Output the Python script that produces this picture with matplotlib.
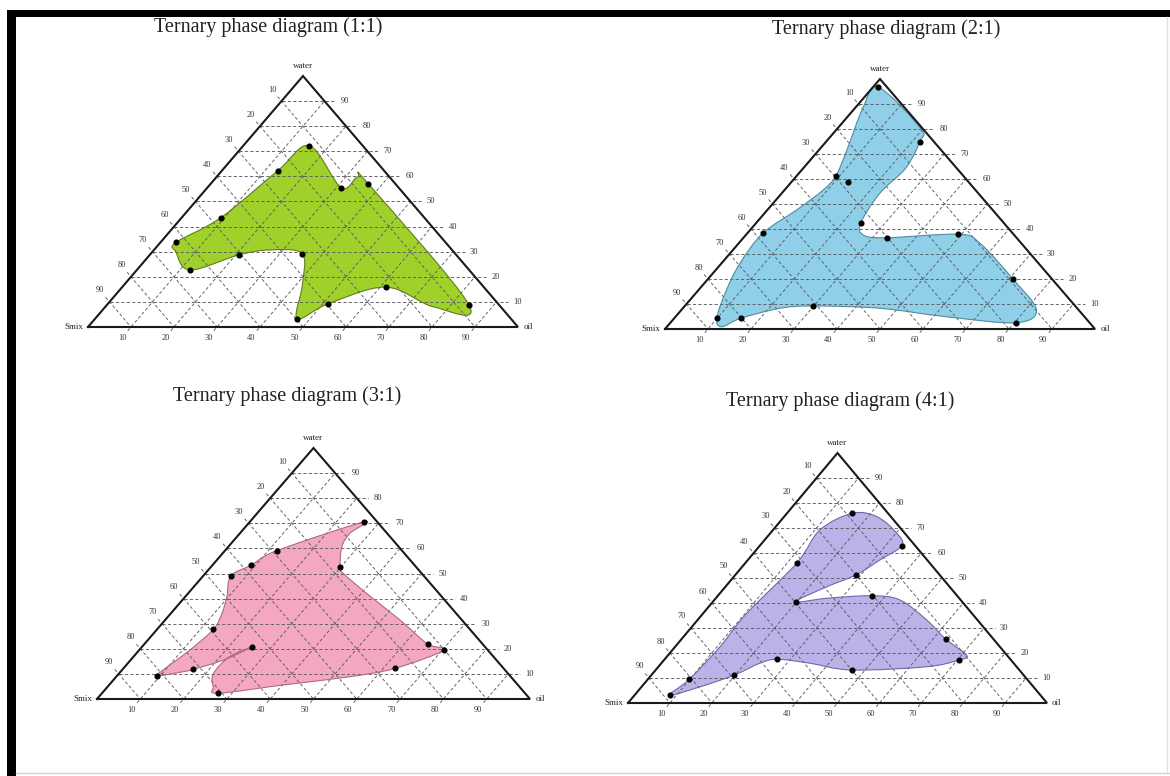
import numpy as np
import matplotlib
matplotlib.use("Agg")
import matplotlib.pyplot as plt
from matplotlib.path import Path
from matplotlib.patches import PathPatch, Rectangle

FIG_W, FIG_H, DPI = 1170, 776, 100

titles = ["Ternary phase diagram (1:1)", "Ternary phase diagram (2:1)",
          "Ternary phase diagram (3:1)", "Ternary phase diagram (4:1)"]
fill_colors = ["#a0d12b", "#8fd0e8", "#f3a8c0", "#bab3e8"]
edge_colors = ["#5f7d1a", "#4f8aa0", "#b06a80", "#6f69a8"]
tick_values = [10, 20, 30, 40, 50, 60, 70, 80, 90]
vertex_labels = ["Smix", "oil", "water"]

# boundary of the microemulsion region: water %, oil % (Smix = rest); mark=1 -> measured point
p1_water = [72.2, 55.5, 59.8, 57.0, 8.8, 8.1, 15.9, 9.2, 3.3, 16.7, 29.2, 30.7, 28.7, 22.7, 29.9, 33.7, 43.5, 62.3]
p1_oil = [15.4, 31.1, 32.8, 36.7, 84.2, 76.2, 61.3, 51.2, 47.0, 41.5, 35.2, 27.0, 20.7, 12.4, 5.5, 3.6, 9.1, 13.0]
p1_mark = [1, 1, 0, 1, 1, 0, 1, 1, 1, 0, 1, 0, 1, 1, 0, 1, 1, 1]

p2_water = [96.7, 80.3, 74.9, 64.3, 54.3, 42.5, 37.6, 36.5, 37.9, 34.3, 19.9, 7.6, 2.5, 4.9, 8.3, 9.2,
            8.3, 4.3, 0.9, 4.5, 15.6, 26.3, 38.3, 47.6, 55.6, 61.3, 71.6, 88.9]
p2_oil = [1.3, 19.3, 21.8, 23.8, 22.8, 24.3, 27.3, 33.3, 49.3, 56.1, 71.0, 82.6, 80.3, 63.0, 45.8, 29.9,
          22.6, 15.5, 12.7, 9.8, 6.5, 4.3, 3.6, 6.8, 9.0, 9.1, 6.5, 1.7]
p2_mark = [1, 0, 1, 0, 0, 1, 0, 1, 1, 0, 1, 0, 1, 0, 0, 1, 0, 1, 0, 1, 0, 0, 1, 0, 0, 1, 0, 0]
p2_extra_water = [58.7]
p2_extra_oil = [13.1]

p3_water = [70.6, 59.1, 53.3, 49.0, 40.8, 34.1, 27.8, 19.5, 11.6, 9.2, 10.9, 11.8, 15.5, 20.8, 16.9,
            10.2, 4.9, 2.3, 5.6, 8.9, 12.2, 19.5, 21.9, 31.5, 42.1, 50.1, 52.7, 60.7, 66.0]
p3_oil = [26.4, 12.0, 8.9, 6.4, 9.6, 11.8, 13.0, 11.7, 9.5, 9.3, 14.5, 16.3, 21.4, 25.5, 22.2,
          21.8, 24.4, 26.8, 40.2, 54.0, 62.7, 70.4, 65.4, 54.2, 41.2, 31.8, 29.8, 26.2, 25.4]
p3_mark = [1, 1, 1, 1, 0, 0, 1, 0, 0, 1, 0, 1, 0, 1, 0, 0, 0, 1, 0, 0, 1, 1, 1, 0, 0, 0, 1, 0, 0]

p4_water = [75.9, 74.5, 67.9, 62.9, 57.2, 51.2, 46.5, 40.5, 41.9, 42.9, 41.2, 33.2, 25.5, 19.2, 17.2,
            14.5, 13.2, 15.9, 17.5, 15.9, 11.2, 6.5, 3.2, 9.5, 22.5, 35.9, 55.9, 69.2]
p4_oil = [15.6, 22.2, 30.2, 33.9, 31.5, 28.8, 24.2, 19.8, 26.5, 36.8, 44.3, 54.7, 63.1, 71.2, 70.4,
          64.0, 46.8, 35.5, 26.9, 23.5, 19.8, 14.0, 8.4, 9.9, 10.7, 10.4, 12.3, 11.2]
p4_mark = [1, 0, 0, 1, 0, 1, 0, 1, 0, 1, 0, 0, 1, 0, 1, 0, 1, 0, 1, 0, 1, 0, 1, 1, 0, 0, 1, 0]

panels = [
    (p1_water, p1_oil, p1_mark, [], []),
    (p2_water, p2_oil, p2_mark, p2_extra_water, p2_extra_oil),
    (p3_water, p3_oil, p3_mark, [], []),
    (p4_water, p4_oil, p4_mark, [], []),
]

# layout (pixels): Smix-vertex x, oil-vertex x, base y, apex y
boxes = [(88, 518, 327, 76), (665, 1095, 329, 79), (97, 530, 699, 448), (628, 1047, 703, 453)]
title_pos = [(268, 27), (886, 29), (287, 396), (840, 401)]
title_sizes = [14.5, 14.5, 14.5, 14.5]

SERIF = ["Liberation Serif", "DejaVu Serif"]


def tern(water, oil):
    w = np.asarray(water, float)
    o = np.asarray(oil, float)
    return o + w / 2.0, w


def smooth_closed_path(x, y):
    pts = np.column_stack([x, y])
    n = len(pts)
    verts = [pts[0]]
    codes = [Path.MOVETO]
    for i in range(n):
        p0, p1, p2, p3 = pts[i - 1], pts[i], pts[(i + 1) % n], pts[(i + 2) % n]
        c1 = p1 + (p2 - p0) / 6.0
        c2 = p2 - (p3 - p1) / 6.0
        verts += [c1, c2, p2]
        codes += [Path.CURVE4] * 3
    verts.append(pts[0])
    codes.append(Path.CLOSEPOLY)
    return Path(np.array(verts), codes)


fig = plt.figure(figsize=(FIG_W / DPI, FIG_H / DPI), dpi=DPI)
fig.patch.set_facecolor("white")

grid_kw = dict(color="#5a5a66", lw=0.65, ls=(0, (3.5, 2.5)), zorder=2)
lab_kw = dict(fontsize=6, color="#333333", family=SERIF, ha="center", va="center", zorder=5)

for k, (pan, box) in enumerate(zip(panels, boxes)):
    xs, xo, yb, yt = box
    ax = fig.add_axes([xs / FIG_W, (FIG_H - yb) / FIG_H, (xo - xs) / FIG_W, (yb - yt) / FIG_H])
    ax.set_xlim(0, 100)
    ax.set_ylim(0, 100)
    ax.axis("off")

    # grid lines
    for t in tick_values:
        # constant water (horizontal), extended past right edge
        ax.plot([t / 2, 100 - t / 2 + 2.6], [t, t], clip_on=False, **grid_kw)
        ax.text(100 - t / 2 + 4.8, t, str(t), clip_on=False, **lab_kw)
        # constant oil (parallel to left edge), ticks below base
        ax.plot([t - 0.75, 50 + t / 2], [-1.5, 100 - t], clip_on=False, **grid_kw)
        ax.text(t - 2.0, -4.2, str(t), clip_on=False, **lab_kw)
        # constant Smix (parallel to right edge), ticks beyond left edge
        s = t
        ax.plot([(100 - s) / 2 - 0.9, 100 - s], [100 - s + 1.8, 0], clip_on=False, **grid_kw)
        ax.text((100 - s) / 2 - 2.2, 100 - s + 4.6, str(s), clip_on=False, **lab_kw)

    # triangle
    ax.plot([0, 100, 50, 0], [0, 0, 100, 0], color="#1a1a1a", lw=1.5, zorder=4,
            solid_joinstyle="miter", clip_on=False)

    water, oil, mark, ew, eo = pan
    x, y = tern(water, oil)
    path = smooth_closed_path(x, y)
    ax.add_patch(PathPatch(path, facecolor=fill_colors[k], edgecolor="none", zorder=1))
    ax.add_patch(PathPatch(path, facecolor="none", edgecolor=edge_colors[k], lw=0.8, zorder=3))
    m = np.asarray(mark, bool)
    ax.plot(x[m], y[m], "o", ms=3.4, color="black", zorder=6, clip_on=False)
    if ew:
        ex, ey = tern(ew, eo)
        ax.plot(ex, ey, "o", ms=3.4, color="black", zorder=6)

    # vertex labels
    ax.text(-1.2, 0, vertex_labels[0], ha="right", va="center", fontsize=6.5, family=SERIF,
            color="#222222", clip_on=False)
    ax.text(101.2, 0, vertex_labels[1], ha="left", va="center", fontsize=6.5, family=SERIF,
            color="#222222", clip_on=False)
    ax.text(50, 102.5, vertex_labels[2], ha="center", va="bottom", fontsize=6.5, family=SERIF,
            color="#222222", clip_on=False)

    tx, ty = title_pos[k]
    fig.text(tx / FIG_W, 1 - ty / FIG_H, titles[k], ha="center", va="center",
             fontsize=title_sizes[k], family=SERIF, color="#222222")

# outer frame
fig.add_artist(Rectangle((7 / FIG_W, 0), 9 / FIG_W, (FIG_H - 10) / FIG_H, transform=fig.transFigure,
                         facecolor="black", edgecolor="none"))
fig.add_artist(Rectangle((7 / FIG_W, 1 - 17 / FIG_H), 1 - 7 / FIG_W, 7 / FIG_H, transform=fig.transFigure,
                         facecolor="black", edgecolor="none"))
fig.add_artist(plt.Line2D([16 / FIG_W, 1], [1 - 773 / FIG_H] * 2, transform=fig.transFigure,
                          color="#d0d0d0", lw=1))
fig.add_artist(plt.Line2D([1167 / FIG_W] * 2, [1 - 773 / FIG_H, 1 - 17 / FIG_H], transform=fig.transFigure,
                          color="#e0e0e0", lw=1))

fig.savefig("out.png", dpi=DPI)
